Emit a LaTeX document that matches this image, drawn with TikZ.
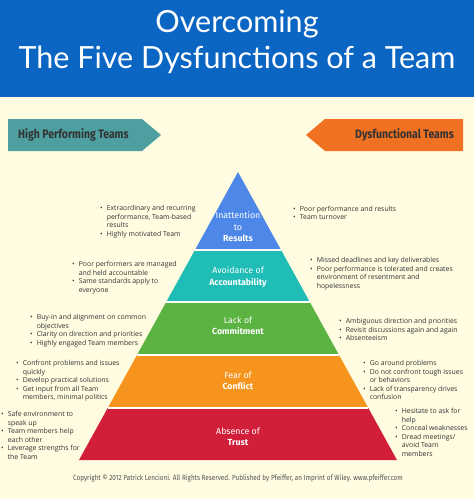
\documentclass[tikz,border=0pt]{standalone}
\usepackage{fontspec}
\setmainfont{Open Sans}
\newfontfamily\labfont{Fira Sans}
\newfontfamily\titlefont{Lato}
\newfontfamily\condfont[FakeStretch=0.85]{Fira Sans}
\definecolor{headblue}{HTML}{0B66C3}
\definecolor{cream}{HTML}{FFFCE1}
\definecolor{tealarrow}{HTML}{4E9FA0}
\definecolor{orangearrow}{HTML}{F07122}
\definecolor{resblue}{HTML}{4D88E8}
\definecolor{accteal}{HTML}{1FBDB5}
\definecolor{comgreen}{HTML}{5BB342}
\definecolor{conforange}{HTML}{F7941E}
\definecolor{trustred}{HTML}{D11F3A}
\definecolor{bodytext}{HTML}{333333}
\newcommand{\bl}{\textbullet}
\tikzset{
  bullets/.style={anchor=base west, inner sep=0pt, text=bodytext,
    font=\fontsize{6.9}{8.6}\selectfont},
  layerlabel/.style={text=white, align=center, inner sep=0pt,
    font=\labfont\fontsize{8.8}{11.5}\selectfont},
  arrowlabel/.style={text=bodytext, inner sep=0pt, font=\condfont\bfseries\fontsize{12.3}{13}\selectfont},
  gapline/.style={white, line width=2pt}
}
\begin{document}
\begin{tikzpicture}[x=1pt,y=-1pt]
\useasboundingbox (0,0) rectangle (474,499);
\fill[cream] (0,0) rectangle (474,499);
\fill[headblue] (0,0) rectangle (474,97);
\node[text=white, inner sep=0pt, anchor=base, font=\titlefont\fontsize{30.5}{32}\selectfont] (t1) at (237,32) {Overcoming};
\node[text=white, inner sep=0pt, anchor=base, font=\titlefont\fontsize{30.5}{32}\selectfont] (t2) at (237,68) {The Five Dysfunctions of a Team};

% arrows
\fill[tealarrow] (8,119) -- (142,119) -- (161,135) -- (142,151) -- (8,151) -- cycle;
\node[arrowlabel, anchor=west] (hp) at (18,135) {High Performing Teams};
\fill[orangearrow] (463,119) -- (325,119) -- (306,135) -- (325,151) -- (463,151) -- cycle;
\node[arrowlabel, anchor=east] (df) at (454,135) {Dysfunctional Teams};

% pyramid
\fill[resblue] (238,172) -- (281.06,250) -- (194.94,250) -- cycle;
\fill[accteal] (194.94,250) -- (281.06,250) -- (309.8,302) -- (166.2,302) -- cycle;
\fill[comgreen] (166.2,302) -- (309.8,302) -- (339,355) -- (137,355) -- cycle;
\fill[conforange] (137,355) -- (339,355) -- (368.3,408) -- (107.7,408) -- cycle;
\fill[trustred] (107.7,408) -- (368.3,408) -- (397,460) -- (79,460) -- cycle;
\draw[gapline] (194.94,250) -- (281.06,250);
\draw[gapline] (166.2,302) -- (309.8,302);
\draw[gapline] (137,355) -- (339,355);
\draw[gapline] (107.7,408) -- (368.3,408);

\node[layerlabel] (lres) at (238,227) {Inattention\\to\\\textbf{Results}};
\node[layerlabel] (lacc) at (238,277) {Avoidance of\\\textbf{Accountability}};
\node[layerlabel] (lcom) at (238,326) {Lack of\\\textbf{Commitment}};
\node[layerlabel] (lcon) at (238,381) {Fear of\\\textbf{Conflict}};
\node[layerlabel] (ltru) at (238,437) {Absence of\\\textbf{Trust}};

% left texts
\node[bullets] (l1) at (100,210.5) {\begin{tabular}[t]{@{}l@{\hspace{4pt}}l@{}}
\bl & Extraordinary and recurring\\ & performance, Team-based\\ & results\\ \bl & Highly motivated Team\end{tabular}};
\node[bullets] (l2) at (72,266.5) {\begin{tabular}[t]{@{}l@{\hspace{4pt}}l@{}}
\bl & Poor performers are managed\\ & and held accountable\\ \bl & Same standards apply to\\ & everyone\end{tabular}};
\node[bullets] (l3) at (30,319.5) {\begin{tabular}[t]{@{}l@{\hspace{4pt}}l@{}}
\bl & Buy-in and alignment on common\\ & objectives\\ \bl & Clarity on direction and priorities\\ \bl & Highly engaged Team members\end{tabular}};
\node[bullets] (l4) at (16,365.5) {\begin{tabular}[t]{@{}l@{\hspace{4pt}}l@{}}
\bl & Confront problems and issues\\ & quickly\\ \bl & Develop practical solutions\\ \bl & Get input from all Team\\ & members, minimal politics\end{tabular}};
\node[bullets] (l5) at (1,416.5) {\begin{tabular}[t]{@{}l@{\hspace{4pt}}l@{}}
\bl & Safe environment to\\ & speak up\\ \bl & Team members help\\ & each other\\ \bl & Leverage strengths for\\ & the Team\end{tabular}};

% right texts
\node[bullets] (r1) at (293,211) {\begin{tabular}[t]{@{}l@{\hspace{4pt}}l@{}}
\bl & Poor performance and results\\ \bl & Team turnover\end{tabular}};
\node[bullets] (r2) at (310,262.5) {\begin{tabular}[t]{@{}l@{\hspace{4pt}}l@{}}
\bl & Missed deadlines and key deliverables\\ \bl & Poor performance is tolerated and creates\\ & environment of resentment and\\ & hopelessness\end{tabular}};
\node[bullets] (r3) at (339,323.5) {\begin{tabular}[t]{@{}l@{\hspace{4pt}}l@{}}
\bl & Ambiguous direction and priorities\\ \bl & Revisit discussions again and again\\ \bl & Absenteeism\end{tabular}};
\node[bullets] (r4) at (363,365.5) {\begin{tabular}[t]{@{}l@{\hspace{4pt}}l@{}}
\bl & Go around problems\\ \bl & Do not confront tough issues\\ & or behaviors\\ \bl & Lack of transparency drives\\ & confusion\end{tabular}};
\node[bullets] (r5) at (395,413.5) {\begin{tabular}[t]{@{}l@{\hspace{4pt}}l@{}}
\bl & Hesitate to ask for\\ & help\\ \bl & Conceal weaknesses\\ \bl & Dread meetings/\\ & avoid Team\\ & members\end{tabular}};

\node[inner sep=0pt, anchor=base, text=bodytext!85, font=\condfont\fontsize{7.5}{8}\selectfont] (copy) at (238,480.5) {Copyright \textcopyright\ 2012 Patrick Lencioni. All Rights Reserved. Published by Pfeiffer, an Imprint of Wiley. www.pfeiffer.com};
\end{tikzpicture}
\end{document}
